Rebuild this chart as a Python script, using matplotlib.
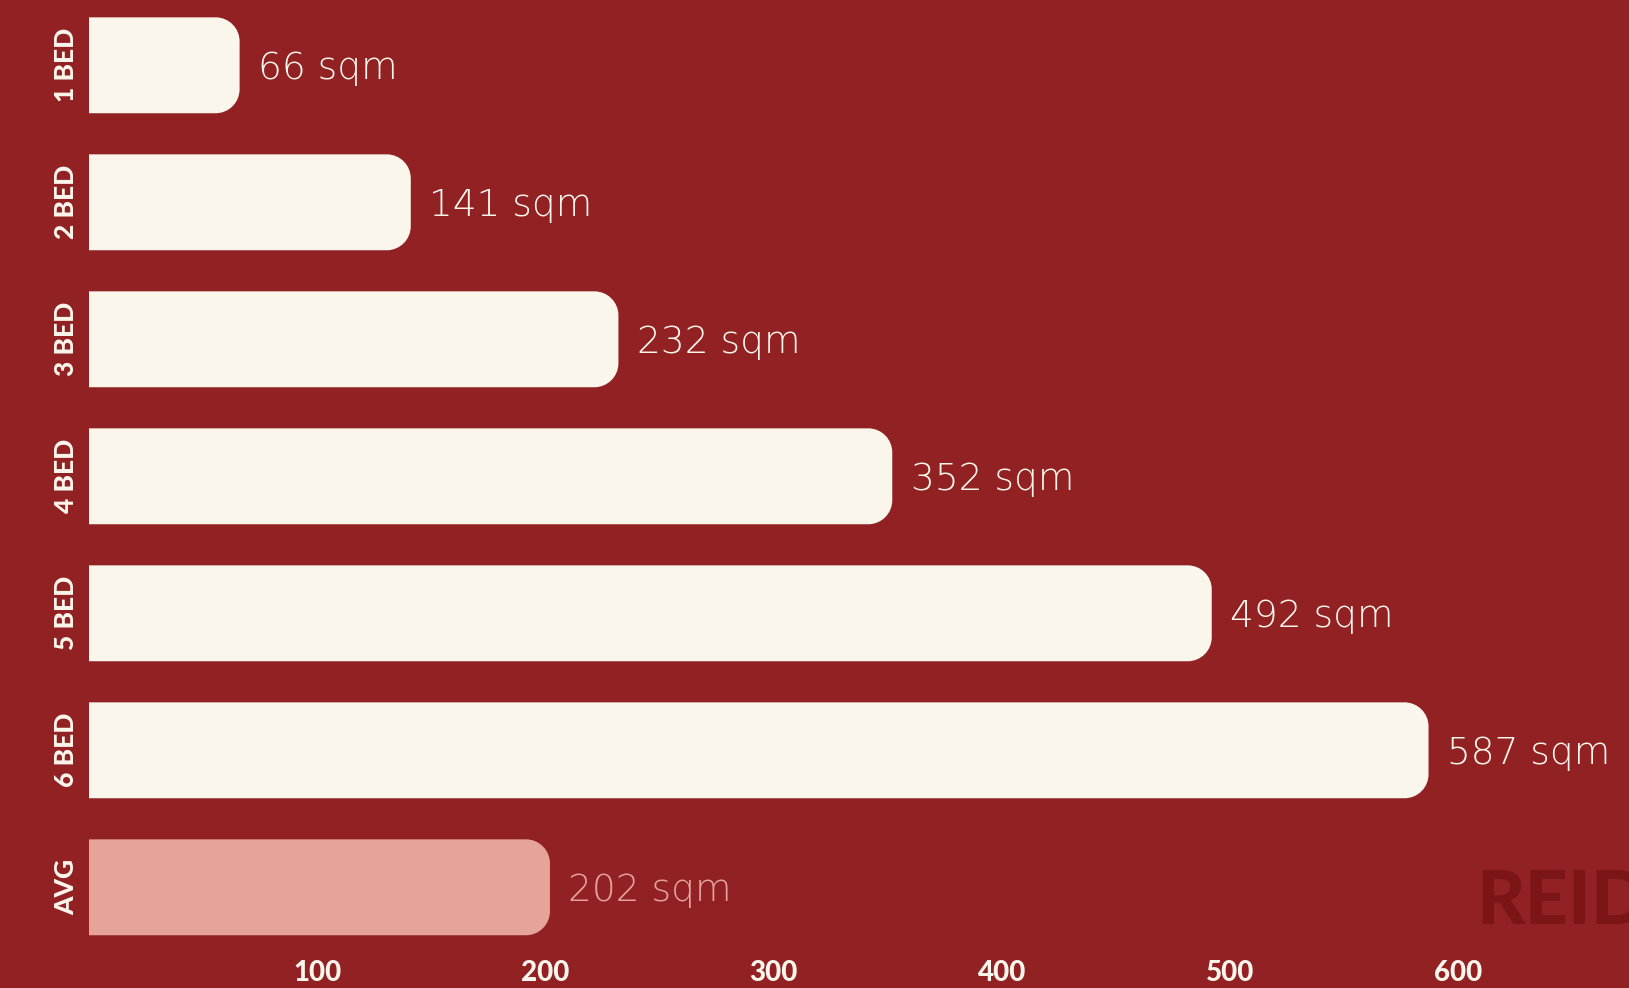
import matplotlib.pyplot as plt
from matplotlib.patches import PathPatch
from matplotlib.path import Path

categories = ["1 BED", "2 BED", "3 BED", "4 BED", "5 BED", "6 BED", "AVG"]
areas = [66, 141, 232, 352, 492, 587, 202]
x_ticks = [100, 200, 300, 400, 500, 600]

BG = "#912123"
CREAM = "#FBF6EC"
PINK = "#E5A39A"
MARK = "#7C1616"

W, H, DPI = 1629, 988, 100
fig = plt.figure(figsize=(W / DPI, H / DPI), dpi=DPI, facecolor=BG)

# axes placed in pixels: left edge at x=0 of data, top of fig to tick labels
ax_left, ax_bottom_px = 89, 950
ax = fig.add_axes([ax_left / W, (H - ax_bottom_px) / H, 1 - ax_left / W, ax_bottom_px / H])
ax.set_facecolor(BG)
for s in ax.spines.values():
    s.set_visible(False)

px_per_unit = 2.282
row_px = 137.0
first_center_px = 65.3
ax.set_xlim(0, (W - ax_left) / px_per_unit)
ax.set_ylim((ax_bottom_px - first_center_px) / row_px, -first_center_px / row_px)

colors = [CREAM] * (len(categories) - 1) + [PINK]
pos = list(range(len(categories)))
bars = ax.barh(pos, areas, height=0.70, color=colors)


def right_rounded(x, y, w, h, rx, ry):
    k = 0.5523
    verts = [(x, y), (x + w - rx, y),
             (x + w - rx + k * rx, y), (x + w, y + ry - k * ry), (x + w, y + ry),
             (x + w, y + h - ry),
             (x + w, y + h - ry + k * ry), (x + w - rx + k * rx, y + h), (x + w - rx, y + h),
             (x, y + h), (x, y)]
    codes = [Path.MOVETO, Path.LINETO,
             Path.CURVE4, Path.CURVE4, Path.CURVE4,
             Path.LINETO,
             Path.CURVE4, Path.CURVE4, Path.CURVE4,
             Path.LINETO, Path.CLOSEPOLY]
    return Path(verts, codes)


# radius in pixels -> data units in x and y
radius_px = 24
rx = radius_px / px_per_unit
ry = radius_px / row_px
for bar, c in zip(bars, colors):
    x, y = bar.get_x(), bar.get_y()
    w, h = bar.get_width(), bar.get_height()
    bar.remove()
    ax.add_patch(PathPatch(right_rounded(x, y, w, h, rx, ry), fc=c, ec="none"))

for p, v, c in zip(pos, areas, colors):
    ax.text(v + 8.0, p + 0.02, f"{v} sqm", color=c, fontsize=27, family="DejaVu Sans",
            fontweight="light", va="center", ha="left")

ax.set_xticks(x_ticks)
ax.set_xticklabels([str(t) for t in x_ticks], fontsize=20, family="Lato",
                   fontweight="black", color=CREAM)
ax.set_yticks(pos)
ax.set_yticklabels(categories, rotation=90, va="center", ha="right",
                   fontsize=19, family="Lato", fontweight="black", color=CREAM)
ax.tick_params(axis="both", length=0)
ax.tick_params(axis="x", pad=7)
ax.tick_params(axis="y", pad=8)

fig.text(1476 / W, 1 - 902 / H, "REID", color=MARK, fontsize=54, family="Lato",
         fontweight="black", ha="left", va="center")

fig.savefig("out.png", dpi=DPI, facecolor=BG)
